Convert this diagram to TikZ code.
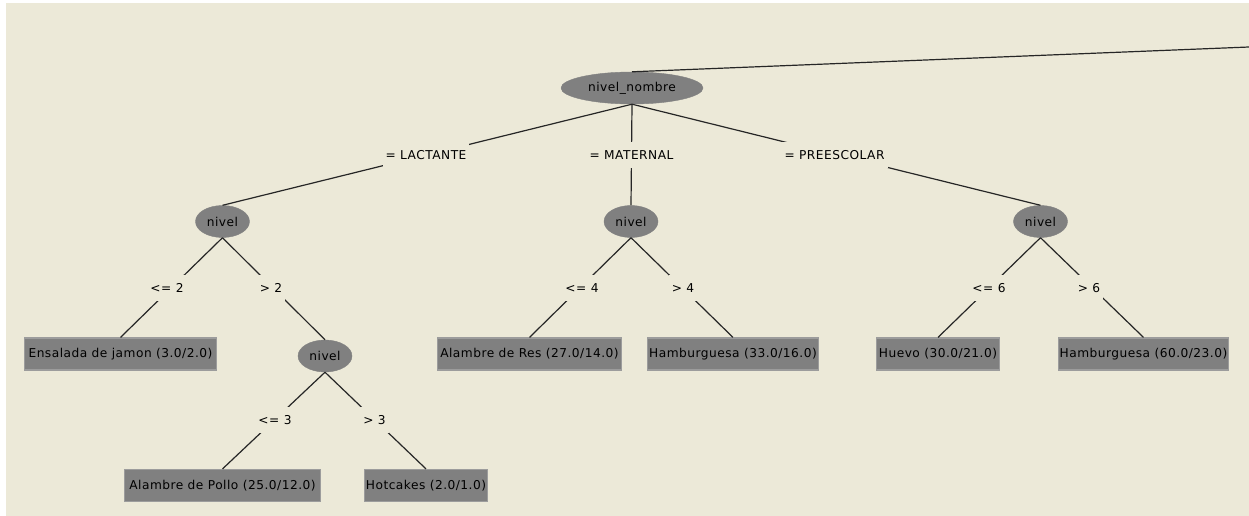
\documentclass[tikz,border=0pt]{standalone}
\usepackage{fontspec}
\setmainfont{DejaVu Sans}[LetterSpace=4]
\usetikzlibrary{shapes.geometric}
\definecolor{bg}{HTML}{ECE9D8}
\definecolor{nodegray}{HTML}{808080}
\definecolor{boxedge}{HTML}{9C9C9C}
\begin{document}
\begin{tikzpicture}[x=1pt,y=-1pt,
  font=\fontsize{12.2}{14}\selectfont,
  split/.style={ellipse, fill=nodegray, draw=nodegray, inner sep=0pt, minimum height=32pt},
  leaf/.style={rectangle, fill=nodegray, draw=boxedge, line width=1.2pt, inner sep=0pt, minimum height=32pt},
  edgelab/.style={fill=bg, inner xsep=3pt, inner ysep=0pt, minimum height=26pt},
  edgeline/.style={line width=1.2pt, black!85}]
\useasboundingbox (0,0) rectangle (1249,516);
\fill[white] (0,0) rectangle (1249,516);
\fill[bg] (6,3) rectangle (1249,516);
% split nodes
\node[split, minimum width=142pt] (root) at (632,88) {nivel\_nombre};
\node[split, minimum width=54pt] (n1) at (222.5,221.5) {nivel};
\node[split, minimum width=54pt] (n2) at (631,221.5) {nivel};
\node[split, minimum width=54pt] (n3) at (1040.5,221.5) {nivel};
\node[split, minimum width=54pt] (n4) at (325,356) {nivel};
% leaves
\node[leaf, minimum width=192pt] (l1) at (120.5,354) {Ensalada de jamon (3.0/2.0)};
\node[leaf, minimum width=196pt] (l2) at (222.5,485.5) {Alambre de Pollo (25.0/12.0)};
\node[leaf, minimum width=123pt] (l3) at (426,485.5) {Hotcakes (2.0/1.0)};
\node[leaf, minimum width=184pt] (l4) at (529.5,354) {Alambre de Res (27.0/14.0)};
\node[leaf, minimum width=171pt] (l5) at (733,354) {Hamburguesa (33.0/16.0)};
\node[leaf, minimum width=123pt] (l6) at (938,354) {Huevo (30.0/21.0)};
\node[leaf, minimum width=170pt] (l7) at (1143.5,354) {Hamburguesa (60.0/23.0)};
% off-picture parent line
\coordinate (up) at (1249,47);
% edges
\draw[edgeline] (root.north) -- (up);
\draw[edgeline] (root.south) -- (n1.north);
\draw[edgeline] (root.south) -- (n2.north);
\draw[edgeline] (root.south) -- (n3.north);
\draw[edgeline] (n1.south) -- (l1.north);
\draw[edgeline] (n1.south) -- (n4.north);
\draw[edgeline] (n4.south) -- (l2.north);
\draw[edgeline] (n4.south) -- (l3.north);
\draw[edgeline] (n2.south) -- (l4.north);
\draw[edgeline] (n2.south) -- (l5.north);
\draw[edgeline] (n3.south) -- (l6.north);
\draw[edgeline] (n3.south) -- (l7.north);
% edge labels
\node[edgelab] (e1) at (426,155) {= LACTANTE};
\node[edgelab] (e2) at (631.5,155) {= MATERNAL};
\node[edgelab] (e3) at (834.5,155) {= PREESCOLAR};
\node[edgelab] (e4) at (167,288) {<= 2};
\node[edgelab] (e5) at (271,288) {> 2};
\node[edgelab] (e6) at (275,420) {<= 3};
\node[edgelab] (e7) at (374.5,420) {> 3};
\node[edgelab] (e8) at (582,288) {<= 4};
\node[edgelab] (e9) at (683,288) {> 4};
\node[edgelab] (e10) at (989,288) {<= 6};
\node[edgelab] (e11) at (1089,288) {> 6};
\end{tikzpicture}
\end{document}
